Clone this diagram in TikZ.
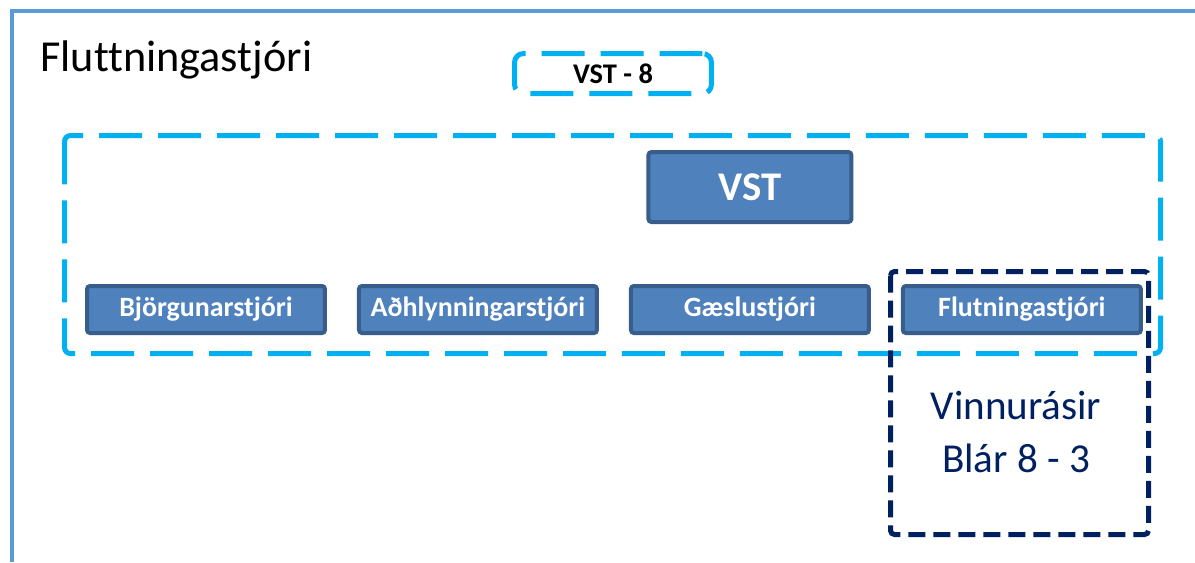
\documentclass[tikz,border=0pt]{standalone}
\usepackage{fontspec}
\setmainfont{Carlito}[Ligatures=NoCommon]
\usetikzlibrary{positioning}
\definecolor{rammi}{HTML}{5B9BD5}
\definecolor{ljosblar}{HTML}{00B0F0}
\definecolor{dokkblar}{HTML}{002060}
\definecolor{kassi}{HTML}{4F81BD}
\definecolor{kassilina}{HTML}{385D8A}
\tikzset{
	stjori/.style={draw=kassilina, fill=kassi, line width=0.08cm, rounded corners=0.06cm,
		minimum width=4.76cm, minimum height=0.94cm, inner sep=0pt, text=white,
		font=\fontsize{15.9}{18}\selectfont\bfseries},
	hopur/.style={draw=ljosblar, line width=0.1cm, dash pattern=on 0.86cm off 0.32cm, rounded corners=0.12cm},
	rasir/.style={draw=dokkblar, line width=0.1cm, dash pattern=on 0.34cm off 0.16cm, rounded corners=0.08cm}
}

\begin{document}
\begin{tikzpicture}[x=0.02cm, y=-0.02cm]
			%%%%% START %%%%%
			
			\useasboundingbox[fill=white] (0, 0) rectangle (1195, 562);
			
			\draw[rammi, line width=0.07cm] (12, 562) -- (12, 11) -- (1195, 11);
			
			\node[anchor=base west, inner sep=0pt, font=\fontsize{25.2}{30}\selectfont] (titill) at (40, 71) {Fluttningastjóri};
			
			\node[hopur, rounded corners=0.18cm, minimum width=3.94cm, minimum height=0.8cm, inner sep=0pt,
				font=\fontsize{16.2}{18}\selectfont\bfseries] (vst8) at (613, 73.5) {VST - 8\hspace{0.28cm}};
			
			\draw[hopur] (64.5, 135.5) rectangle (1160.5, 353.5);
			
			\node[stjori] (bjorgun) at (206, 309.5) {Björgunarstjóri};
			\node[stjori, right=0.6cm of bjorgun] (adhlynning) {Aðhlynningarstjóri};
			\node[stjori, right=0.6cm of adhlynning] (gaesla) {Gæslustjóri};
			\node[stjori, right=0.6cm of gaesla] (flutningar) {Flutningastjóri};
			
			\node[stjori, minimum width=4.06cm, minimum height=1.4cm,
				font=\fontsize{23.2}{26}\selectfont\bfseries, above=1.2cm of gaesla] (vst) {VST};
			
			\draw[rasir] (890.5, 271.5) rectangle (1148.5, 534.5);
			\node[text=dokkblar, align=center, font=\fontsize{23.4}{30.6}\selectfont] (vinnurasir) at (1016, 432) {Vinnurásir\\Blár 8 - 3};
			
			%%%%% END %%%%%
\end{tikzpicture}
\end{document}
